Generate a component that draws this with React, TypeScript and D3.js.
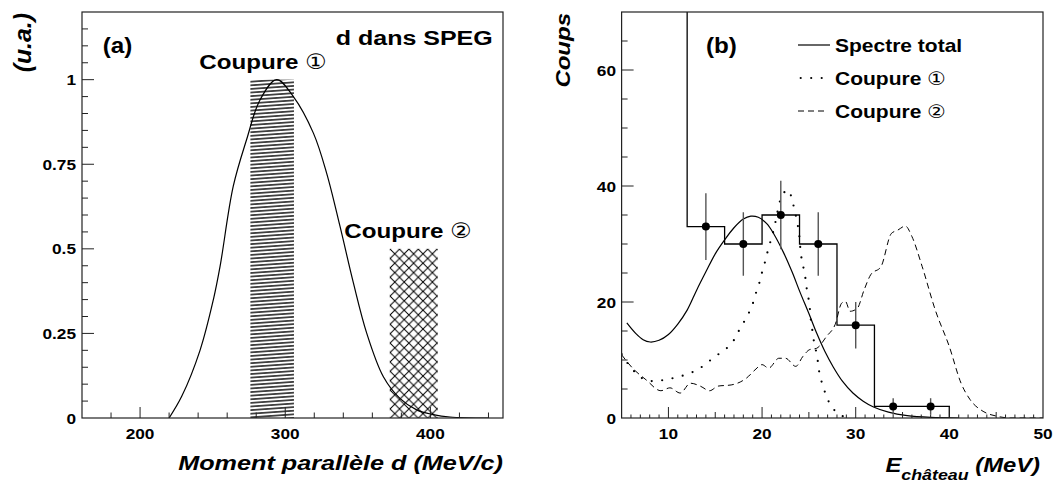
import React from "react";
import * as d3 from "d3";

const W = 1054;
const H = 482;
const FONT = "'Liberation Sans', Arial, Helvetica, sans-serif";
const SYMFONT = "'DejaVu Sans', 'Noto Sans CJK JP', sans-serif";

// ---------- Panel (a) data ----------
const momentX = [220, 228.7, 241.3, 250.5, 255.1, 264.2, 273.4, 282.6, 294.1, 305.6, 319.4, 328.5, 337.7, 346.9, 356.1, 367.6, 379, 390.5, 402, 413.5, 440];
const momentY = [0, 0.064, 0.2, 0.35, 0.448, 0.685, 0.823, 0.94, 1.0, 0.95, 0.842, 0.724, 0.567, 0.4, 0.251, 0.122, 0.058, 0.024, 0.01, 0.003, 0];
const cutWord = "Coupure";
const cutDigits = ["\u2460", "\u2461"];
const cutLow = [276, 372];
const cutHigh = [306, 405];
const cutTop = [1.0, 0.5];
const aXTicks = [200, 300, 400];
const aXTickLabels = ["200", "300", "400"];
const aYTicks = [0, 0.25, 0.5, 0.75, 1];
const aYTickLabels = ["0", "0.25", "0.5", "0.75", "1"];

// ---------- Panel (b) data ----------
const binEdges = [12, 16, 20, 24, 28, 32, 36, 40];
const binCounts = [33, 30, 35, 30, 16, 2, 2];
const binCenters = [14, 18, 22, 26, 30, 34, 38];
const totalX = [5.56, 6.5, 7.3, 8.05, 9.0, 10.0, 11.0, 12.0, 13.0, 14.0, 15.0, 16.0, 17.0, 18.0, 18.8, 19.6, 20.5, 21.3, 22.27, 23.2, 24.05, 25.0, 25.84, 26.7, 27.6, 28.6, 29.7, 30.8, 31.9, 33.5, 35.5, 38, 41];
const totalY = [16.4, 14.6, 13.5, 13.1, 13.4, 14.4, 16.2, 18.6, 22.0, 25.2, 28.3, 30.7, 32.8, 34.3, 34.8, 34.6, 33.5, 31.6, 28.6, 25.2, 21.7, 18.0, 14.6, 11.5, 8.8, 6.3, 4.3, 2.9, 1.9, 1.0, 0.4, 0.1, 0];
const cut1X = [5.0, 5.84, 6.63, 7.59, 8.76, 9.94, 11.07, 12.24, 13.28, 14.27, 15.17, 16.13, 16.94, 17.51, 18.08, 18.64, 19.07, 19.43, 19.79, 20.07, 20.39, 20.67, 21.04, 21.31, 21.57, 21.8, 22.2, 22.8, 23.23, 23.52, 23.77, 23.95, 24.16, 24.41, 24.62, 24.77, 24.98, 25.12, 25.23, 25.41, 25.58, 25.84, 26.19, 26.54, 26.9, 27.5, 28.33, 29.4];
const cut1Y = [11.0, 9.0, 7.6, 6.5, 6.4, 6.7, 7.1, 7.7, 8.5, 9.7, 10.8, 11.9, 13.3, 15.0, 16.6, 18.3, 20.0, 22.0, 23.7, 25.6, 27.3, 29.2, 31.2, 32.9, 34.9, 36.7, 38.6, 39.3, 37.4, 35.5, 33.6, 31.8, 28.1, 26.0, 24.2, 22.3, 20.4, 18.6, 16.6, 14.7, 12.8, 11.0, 7.2, 5.4, 3.6, 1.8, 0.5, 0];
const cut2X = [5.0, 6.17, 7.6, 9.2, 10.16, 11.26, 12.35, 13.4, 14.4, 15.3, 16.7, 18.35, 19.25, 20.0, 20.7, 21.8, 22.5, 23.6, 24.35, 25.1, 25.8, 26.9, 27.8, 28.5, 28.9, 29.4, 30.16, 30.9, 31.6, 32.7, 33.8, 34.5, 35.3, 36.0, 37.1, 38.5, 40.0, 41.25, 42.2, 43.6, 45.1, 46.5, 50];
const cut2Y = [10.9, 8.6, 6.6, 4.7, 5.2, 4.3, 6.0, 5.5, 4.7, 5.5, 5.7, 6.9, 8.3, 9.2, 8.6, 10.3, 10.3, 8.9, 10.6, 11.8, 12.0, 14.1, 16.1, 19.8, 20.1, 18.4, 18.9, 22.1, 24.7, 26.1, 31.8, 32.4, 33.1, 31.3, 26.1, 18.6, 12.3, 6.0, 3.2, 1.15, 0.3, 0, 0];
const legendWords = ["Spectre total", "Coupure", "Coupure"];
const legendDigits = ["", "\u2460", "\u2461"];
const bXTicks = [10, 20, 30, 40, 50];
const bXTickLabels = ["10", "20", "30", "40", "50"];
const bYTicks = [0, 20, 40, 60];
const bYTickLabels = ["0", "20", "40", "60"];

// ---------- scales ----------
const ax = d3.scaleLinear().domain([160, 450]).range([82, 503]);
const ay = d3.scaleLinear().domain([0, 1.2]).range([418, 12]);
const bx = d3.scaleLinear().domain([5, 50]).range([621.6, 1043]);
const by = d3.scaleLinear().domain([0, 70]).range([418, 12]);

function Txt(props: any) {
  const { x, y, fs, sx = 1.15, anchor = "start", rot = 0, italic = false, children } = props;
  return (
    <text
      transform={`translate(${x},${y}) rotate(${rot}) scale(${sx},1)`}
      fontSize={fs}
      fontWeight="bold"
      fontStyle={italic ? "italic" : "normal"}
      fontFamily={FONT}
      textAnchor={anchor}
      fill="#000"
    >
      {children}
    </text>
  );
}

function Digit(props: any) {
  return (
    <tspan fontWeight="normal" fontFamily={SYMFONT}>
      {props.children}
    </tspan>
  );
}

export default function App() {
  const smooth = (sx: any, sy: any, xs: number[], ys: number[]) =>
    d3
      .line<number>()
      .x((_, i) => sx(xs[i]))
      .y((_, i) => sy(ys[i]))
      .curve(d3.curveCatmullRom.alpha(0.5))(xs) as string;
  const linear = (sx: any, sy: any, xs: number[], ys: number[]) =>
    d3
      .line<number>()
      .x((_, i) => sx(xs[i]))
      .y((_, i) => sy(ys[i]))
      .curve(d3.curveMonotoneX)(xs) as string;

  // ticks
  const aXMinor = d3.range(180, 450, 20);
  const aYMinor = d3.range(1, 24).map((k) => k * 0.05);
  const bXMinor = d3.range(6, 50, 1);
  const bYMinor = d3.range(5, 70, 5);

  // histogram path
  let hist = `M${bx(binEdges[0])},${by(70)}`;
  binCounts.forEach((c, i) => {
    hist += `V${by(c)}H${bx(binEdges[i + 1])}`;
  });
  hist += `V${by(0)}`;

  const frameA = { x: ax(160), y: ay(1.2), w: ax(450) - ax(160), h: ay(0) - ay(1.2) };
  const frameB = { x: bx(5), y: by(70), w: bx(50) - bx(5), h: by(0) - by(70) };

  const legY = [45, 78, 111];

  return (
    <div style={{ position: "absolute", left: 0, top: 0 }}>
      <svg width={W} height={H} xmlns="http://www.w3.org/2000/svg" style={{ display: "block", background: "#fff" }}>
        <defs>
          <clipPath id="clipA">
            <rect x={frameA.x} y={frameA.y} width={frameA.w} height={frameA.h} />
          </clipPath>
          <clipPath id="clipB">
            <rect x={frameB.x} y={frameB.y} width={frameB.w} height={frameB.h} />
          </clipPath>
          <pattern id="hatchH" patternUnits="userSpaceOnUse" width={40} height={3.6} patternTransform="rotate(-4)">
            <line x1={0} y1={1.8} x2={40} y2={1.8} stroke="#000" strokeWidth={1.3} />
          </pattern>
          <pattern id="hatchX" patternUnits="userSpaceOnUse" width={9.4} height={9.4}>
            <path d="M-1,-1L10.4,10.4M10.4,-1L-1,10.4" stroke="#000" strokeWidth={1} fill="none" />
          </pattern>
        </defs>
        <rect x={0} y={0} width={W} height={H} fill="#fff" />

        {/* ================= Panel (a) ================= */}
        <g clipPath="url(#clipA)">
          {cutLow.map((lo, i) => (
            <rect
              key={i}
              x={ax(lo)}
              y={ay(cutTop[i])}
              width={ax(cutHigh[i]) - ax(lo)}
              height={ay(0) - ay(cutTop[i])}
              fill={i === 0 ? "url(#hatchH)" : "url(#hatchX)"}
            />
          ))}
          <path d={smooth(ax, ay, momentX, momentY)} fill="none" stroke="#000" strokeWidth={1.2} />
        </g>
        <rect x={frameA.x} y={frameA.y} width={frameA.w} height={frameA.h} fill="none" stroke="#222" strokeWidth={1.2} />
        {aXMinor.map((v) => {
          const len = v % 100 === 0 ? 11 : 5.5;
          return <line key={"ax" + v} x1={ax(v)} x2={ax(v)} y1={ay(0)} y2={ay(0) - len} stroke="#222" strokeWidth={1} />;
        })}
        {aYMinor.map((v) => {
          const major = Math.abs(v / 0.25 - Math.round(v / 0.25)) < 1e-6;
          const len = major ? 12 : 6;
          return <line key={"ay" + v} x1={ax(160)} x2={ax(160) + len} y1={ay(v)} y2={ay(v)} stroke="#222" strokeWidth={1} />;
        })}
        {aXTicks.map((v, i) => (
          <Txt key={"axl" + v} x={ax(v)} y={439} fs={15} anchor="middle">
            {aXTickLabels[i]}
          </Txt>
        ))}
        {aYTicks.map((v, i) => (
          <Txt key={"ayl" + v} x={76} y={ay(v) + 5.5} fs={15} anchor="end">
            {aYTickLabels[i]}
          </Txt>
        ))}
        <Txt x={503} y={470} fs={21} sx={1.2} anchor="end" italic>
          Moment parallèle d (MeV/c)
        </Txt>
        <Txt x={30.5} y={13} fs={23} sx={1.08} anchor="end" rot={-90} italic>
          (u.a.)
        </Txt>
        <Txt x={102.7} y={53} fs={22} sx={1.1}>(a)</Txt>
        <Txt x={492.7} y={45} fs={20} sx={1.25} anchor="end">d dans SPEG</Txt>
        <Txt x={199.3} y={69.3} fs={21} sx={1.15}>
          {cutWord} <Digit>{cutDigits[0]}</Digit>
        </Txt>
        <Txt x={344.3} y={238.3} fs={21} sx={1.15}>
          {cutWord} <Digit>{cutDigits[1]}</Digit>
        </Txt>

        {/* ================= Panel (b) ================= */}
        <g clipPath="url(#clipB)">
          <path d={hist} fill="none" stroke="#000" strokeWidth={1.3} />
          <path d={smooth(bx, by, totalX, totalY)} fill="none" stroke="#000" strokeWidth={1.2} />
          <path
            d={smooth(bx, by, cut1X, cut1Y)}
            fill="none"
            stroke="#000"
            strokeWidth={2.2}
            strokeDasharray="0 10.5"
            strokeLinecap="round"
          />
          <path d={linear(bx, by, cut2X, cut2Y)} fill="none" stroke="#000" strokeWidth={1} strokeDasharray="6 4" />
          {binCenters.map((c, i) => {
            const e = Math.sqrt(binCounts[i]);
            return (
              <g key={"pt" + c}>
                <line x1={bx(c)} x2={bx(c)} y1={by(binCounts[i] - e)} y2={by(binCounts[i] + e)} stroke="#555" strokeWidth={1.4} />
                <circle cx={bx(c)} cy={by(binCounts[i])} r={4} fill="#000" />
              </g>
            );
          })}
        </g>
        <rect x={frameB.x} y={frameB.y} width={frameB.w} height={frameB.h} fill="none" stroke="#222" strokeWidth={1.2} />
        {bXMinor.map((v) => {
          const len = v % 10 === 0 ? 11 : v % 5 === 0 ? 6 : 3.5;
          return <line key={"bx" + v} x1={bx(v)} x2={bx(v)} y1={by(0)} y2={by(0) - len} stroke="#222" strokeWidth={1} />;
        })}
        {bYMinor.map((v) => {
          const len = v % 20 === 0 ? 12 : 6;
          return <line key={"by" + v} x1={bx(5)} x2={bx(5) + len} y1={by(v)} y2={by(v)} stroke="#222" strokeWidth={1} />;
        })}
        {bXTicks.map((v, i) => (
          <Txt key={"bxl" + v} x={bx(v)} y={439} fs={15} anchor="middle">
            {bXTickLabels[i]}
          </Txt>
        ))}
        {bYTicks.map((v, i) => (
          <Txt key={"byl" + v} x={616} y={by(v) + 5.5} fs={15} anchor="end">
            {bYTickLabels[i]}
          </Txt>
        ))}
        <text
          transform={`translate(1040,471.7) scale(1.19,1)`}
          fontSize={20}
          fontWeight="bold"
          fontStyle="italic"
          fontFamily={FONT}
          textAnchor="end"
        >
          E
          <tspan fontSize={15} dy={8}>château</tspan>
          <tspan dy={-8}> (MeV)</tspan>
        </text>
        <Txt x={569.5} y={13} fs={20} sx={1.2} anchor="end" rot={-90} italic>
          Coups
        </Txt>
        <Txt x={706} y={53} fs={22} sx={1.1}>(b)</Txt>

        {/* legend */}
        <line x1={798} x2={830} y1={legY[0]} y2={legY[0]} stroke="#000" strokeWidth={1.2} />
        <line x1={800.7} x2={823} y1={legY[1]} y2={legY[1]} stroke="#000" strokeWidth={2.2} strokeDasharray="0 10.5" strokeLinecap="round" />
        <line x1={798} x2={826} y1={legY[2]} y2={legY[2]} stroke="#000" strokeWidth={1} strokeDasharray="6 4" />
        {legendWords.map((n, i) => (
          <Txt key={"leg" + i} x={835} y={legY[i] + 6.7} fs={18.6} sx={1.13}>
            {n}
            {legendDigits[i] ? " " : ""}
            {legendDigits[i] ? <Digit>{legendDigits[i]}</Digit> : null}
          </Txt>
        ))}
      </svg>
    </div>
  );
}
